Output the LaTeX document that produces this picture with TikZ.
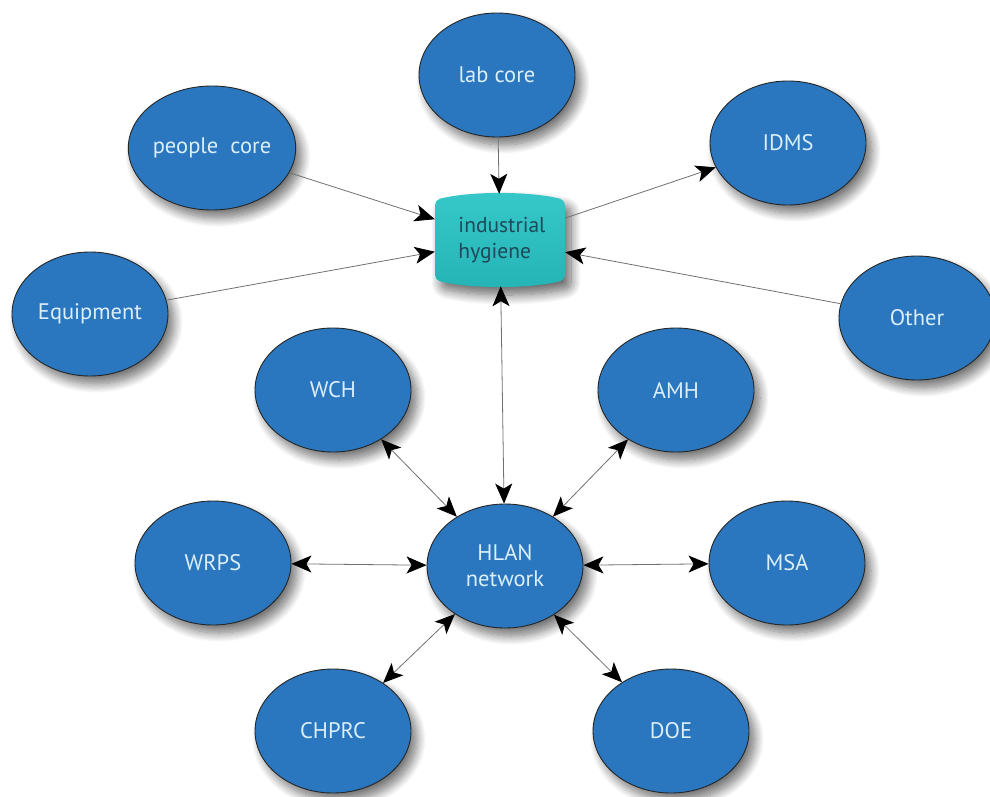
\documentclass[tikz,border=0pt]{standalone}
\usepackage{fontspec}
\setmainfont{PT Sans}
\usetikzlibrary{arrows.meta,shapes.geometric,shadows.blur}
\definecolor{bluefill}{HTML}{2A77BF}
\definecolor{bluetext}{HTML}{DCEEFA}
\definecolor{tealtop}{HTML}{36C8C9}
\definecolor{tealbot}{HTML}{25B4B6}
\definecolor{tealtext}{HTML}{1C4A5A}
\definecolor{linegray}{HTML}{707070}
\tikzset{
  bubble/.style={ellipse, draw=black!85, line width=0.9pt, fill=bluefill,
    minimum width=156pt, minimum height=124pt, inner sep=0pt,
    text=bluetext, font=\fontsize{22.5}{26}\selectfont, align=center,
    blur shadow={shadow xshift=6pt, shadow yshift=-8pt, shadow blur radius=9pt, shadow blur steps=12, shadow opacity=55}},
  conn/.style={draw=linegray, line width=0.8pt,
    arrows={-Stealth[black, length=20pt, width=17pt, inset=5pt]}},
  bconn/.style={draw=linegray, line width=0.8pt,
    arrows={Stealth[black, length=20pt, width=17pt, inset=5pt]-Stealth[black, length=20pt, width=17pt, inset=5pt]}}
}
\begin{document}
\begin{tikzpicture}[x=1pt,y=-1pt]
\useasboundingbox (0,0) rectangle (990,797);
% cylinder
\node[rectangle, minimum width=130pt, minimum height=92pt, inner sep=0pt] (ih) at (500,240) {};
\begin{scope}[shift={(ih.center)}]
\path[blur shadow={shadow xshift=6pt, shadow yshift=-8pt, shadow blur radius=10pt, shadow blur steps=12, shadow opacity=60}, rounded corners=5pt,
  top color=tealtop, bottom color=tealbot]
  (-65,-40) .. controls (-30,-49) and (30,-49) .. (65,-40) -- (65,40)
  .. controls (30,49) and (-30,49) .. (-65,40) -- cycle;
\end{scope}
\node[text=tealtext, font=\fontsize{21.5}{26}\selectfont, align=left] (iht) at ([xshift=2pt]ih.center) {industrial\\hygiene};

\node[bubble] (lab) at (497,75) {lab core};
\node[bubble] (pc) at (212,148) {people\ \ core};
\node[bubble] (idms) at (788,143) {IDMS};
\node[bubble] (eq) at (90,314) {Equipment};
\node[bubble] (oth) at (917,318) {Other};
\node[bubble] (wch) at (333,390) {WCH};
\node[bubble] (amh) at (676,390) {AMH};
\node[bubble] (wrps) at (213,563) {WRPS};
\node[bubble] (hlan) at (505,566) {HLAN\\network};
\node[bubble] (msa) at (787,563) {MSA};
\node[bubble] (chprc) at (333,731) {CHPRC};
\node[bubble] (doe) at (671,731) {DOE};

\draw[conn] (lab) -- (ih);
\draw[conn] (pc) -- (ih);
\draw[conn] (eq) -- (ih);
\draw[conn] (ih) -- (idms);
\draw[conn] (oth) -- (ih);
\draw[bconn] (ih) -- (hlan);
\draw[bconn] (wch) -- (hlan);
\draw[bconn] (amh) -- (hlan);
\draw[bconn] (wrps) -- (hlan);
\draw[bconn] (msa) -- (hlan);
\draw[bconn] (chprc) -- (hlan);
\draw[bconn] (doe) -- (hlan);
\end{tikzpicture}
\end{document}
